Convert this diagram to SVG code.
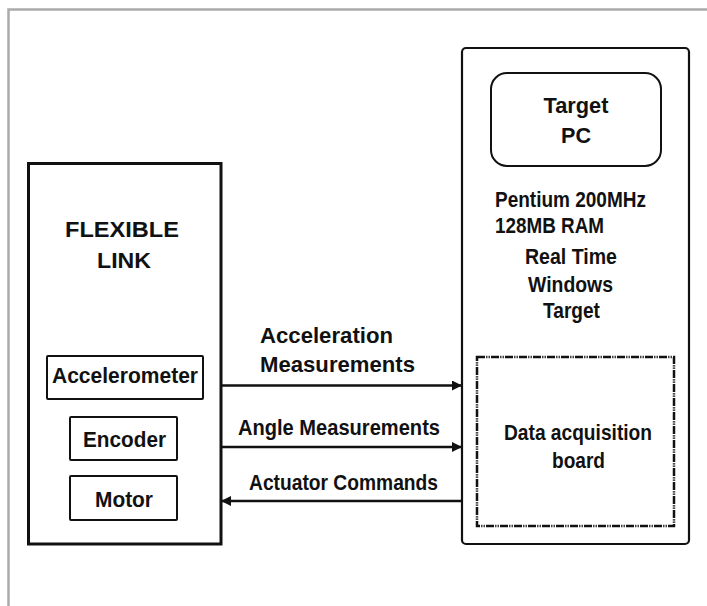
<svg xmlns="http://www.w3.org/2000/svg" width="707" height="606" viewBox="0 0 707 606">
  <style>
    .frame { fill: none; stroke: #ababab; stroke-width: 2.5; }
    .box { fill: #fff; stroke: #111; }
    .lbl { font-family: "Liberation Sans", Arial, sans-serif; font-weight: bold; font-size: 21.5px; fill: #111; }
    .mid { text-anchor: middle; }
    .wire { stroke: #111; stroke-width: 2.5; fill: none; }
  </style>
  <defs>
    <marker id="head" viewBox="0 0 10 10" refX="10" refY="5" markerWidth="11" markerHeight="10" markerUnits="userSpaceOnUse" orient="auto">
      <path d="M0,0 L10,5 L0,10 Z" fill="#111"/>
    </marker>
  </defs>

  <rect width="707" height="606" fill="#fff"/>
  <!-- outer frame: top and left edges only -->
  <path class="frame" d="M8.5,606 L8.5,9.5 L707,9.5"/>

  <!-- flexible link assembly -->
  <g id="flexible-link">
    <rect class="box" x="28.5" y="163.5" width="192.5" height="380.5" stroke-width="3"/>
    <text class="lbl mid" x="122" y="237" textLength="114" lengthAdjust="spacingAndGlyphs">FLEXIBLE</text>
    <text class="lbl mid" x="124" y="268" textLength="54" lengthAdjust="spacingAndGlyphs">LINK</text>
  </g>
  <g id="accelerometer">
    <rect class="box" x="47" y="356" width="156" height="43" stroke-width="2" rx="1"/>
    <text class="lbl mid" x="125" y="383" textLength="146" lengthAdjust="spacingAndGlyphs">Accelerometer</text>
  </g>
  <g id="encoder">
    <rect class="box" x="70" y="417" width="107" height="43" stroke-width="2" rx="1"/>
    <text class="lbl mid" x="124.5" y="447" textLength="83" lengthAdjust="spacingAndGlyphs">Encoder</text>
  </g>
  <g id="motor">
    <rect class="box" x="70" y="476" width="107" height="44" stroke-width="2" rx="1"/>
    <text class="lbl mid" x="124" y="507" textLength="58" lengthAdjust="spacingAndGlyphs">Motor</text>
  </g>

  <!-- target computer -->
  <g id="target-pc">
    <rect class="box" x="462" y="48" width="227" height="496" rx="4" stroke-width="2.2"/>
    <rect class="box" x="491" y="73" width="170" height="93" rx="16" stroke-width="2"/>
    <text class="lbl mid" x="576" y="113" textLength="65" lengthAdjust="spacingAndGlyphs">Target</text>
    <text class="lbl mid" x="576" y="143" textLength="30" lengthAdjust="spacingAndGlyphs">PC</text>
    <text class="lbl" x="495" y="207" textLength="151" lengthAdjust="spacingAndGlyphs">Pentium 200MHz</text>
    <text class="lbl" x="495" y="233" textLength="109" lengthAdjust="spacingAndGlyphs">128MB RAM</text>
    <text class="lbl mid" x="571" y="264" textLength="92" lengthAdjust="spacingAndGlyphs">Real Time</text>
    <text class="lbl mid" x="570.5" y="292" textLength="85" lengthAdjust="spacingAndGlyphs">Windows</text>
    <text class="lbl mid" x="571.5" y="318" textLength="57" lengthAdjust="spacingAndGlyphs">Target</text>
  </g>
  <g id="daq-board">
    <rect x="477" y="357" width="197" height="169" fill="none" stroke="#111" stroke-width="2.5" stroke-dasharray="8 1.2 1.2 1.2 1.2 1.2"/>
    <text class="lbl mid" x="578" y="440" textLength="148" lengthAdjust="spacingAndGlyphs">Data acquisition</text>
    <text class="lbl mid" x="578.5" y="468" textLength="53" lengthAdjust="spacingAndGlyphs">board</text>
  </g>

  <!-- signal connectors -->
  <g id="connectors">
    <line class="wire" x1="221" y1="385.5" x2="462" y2="385.5" marker-end="url(#head)"/>
    <line class="wire" x1="221" y1="447" x2="462" y2="447" marker-end="url(#head)"/>
    <line class="wire" x1="462" y1="501" x2="221" y2="501" marker-end="url(#head)"/>
    <text class="lbl" x="260" y="343" textLength="133" lengthAdjust="spacingAndGlyphs">Acceleration</text>
    <text class="lbl" x="260" y="372" textLength="155" lengthAdjust="spacingAndGlyphs">Measurements</text>
    <text class="lbl" x="238" y="435" textLength="202" lengthAdjust="spacingAndGlyphs">Angle Measurements</text>
    <text class="lbl" x="249" y="490" textLength="189" lengthAdjust="spacingAndGlyphs">Actuator Commands</text>
  </g>
</svg>
